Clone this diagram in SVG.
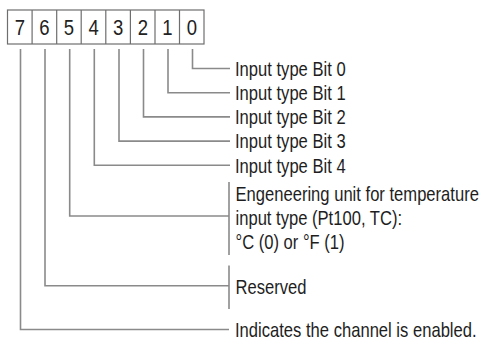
<svg xmlns="http://www.w3.org/2000/svg" width="485" height="343" viewBox="0 0 485 343">
<style>
.bx{fill:#fff;stroke:#6e6e6e;stroke-width:1.2}
.dg{font-family:"Liberation Sans",Arial,sans-serif;font-size:18.5px;fill:#222;text-anchor:middle}
.lb{font-family:"Liberation Sans",Arial,sans-serif;font-size:16.6px;fill:#1e1e1e}
.cn{fill:none;stroke:#8a8a8a;stroke-width:1.6}
</style>
<rect width="485" height="343" fill="#fff"/>
<g id="register">
<rect class="bx" x="7.5" y="10" width="196.5" height="34"/>
<path class="bx" d="M32.1 10V44M56.7 10V44M81.2 10V44M105.8 10V44M130.4 10V44M155 10V44M179.5 10V44"/>
<text class="dg" transform="translate(20 35) scale(1 1.2)">7</text>
<text class="dg" transform="translate(44.5 35) scale(1 1.2)">6</text>
<text class="dg" transform="translate(69 35) scale(1 1.2)">5</text>
<text class="dg" transform="translate(93.6 35) scale(1 1.2)">4</text>
<text class="dg" transform="translate(118.2 35) scale(1 1.2)">3</text>
<text class="dg" transform="translate(142.8 35) scale(1 1.2)">2</text>
<text class="dg" transform="translate(167.3 35) scale(1 1.2)">1</text>
<text class="dg" transform="translate(191.9 35) scale(1 1.2)">0</text>
</g>
<g id="connectors">
<path class="cn" d="M192.5 49V68.5H230"/>
<path class="cn" d="M168 49V92.7H230"/>
<path class="cn" d="M143.5 49V116.9H230"/>
<path class="cn" d="M119 49V141.1H230"/>
<path class="cn" d="M94.3 49V165.3H230"/>
<path class="cn" d="M69.7 49V216H229"/>
<path class="cn" d="M45 49V285.7H229"/>
<path class="cn" d="M20.5 49V329.5H229"/>
<path class="cn" d="M229 182V255"/>
<path class="cn" d="M229 265.5V309"/>
</g>
<g id="bit0"><text class="lb" transform="translate(235 75.8) scale(1 1.18)">Input type Bit 0</text></g>
<g id="bit1"><text class="lb" transform="translate(235 100) scale(1 1.18)">Input type Bit 1</text></g>
<g id="bit2"><text class="lb" transform="translate(235 124.2) scale(1 1.18)">Input type Bit 2</text></g>
<g id="bit3"><text class="lb" transform="translate(235 148.4) scale(1 1.18)">Input type Bit 3</text></g>
<g id="bit4"><text class="lb" transform="translate(235 172.6) scale(1 1.18)">Input type Bit 4</text></g>
<g id="bit5">
<text class="lb" transform="translate(235.5 200.5) scale(1 1.18)">Engeneering unit for temperature</text>
<text class="lb" transform="translate(235.5 224.5) scale(1 1.18)">input type (Pt100, TC):</text>
<text class="lb" transform="translate(235.5 248.5) scale(1 1.18)">°C (0) or °F (1)</text>
</g>
<g id="bit6"><text class="lb" transform="translate(235.5 294) scale(1 1.18)">Reserved</text></g>
<g id="bit7"><text class="lb" transform="translate(235 336.5) scale(1 1.18)">Indicates the channel is enabled.</text></g>
</svg>
